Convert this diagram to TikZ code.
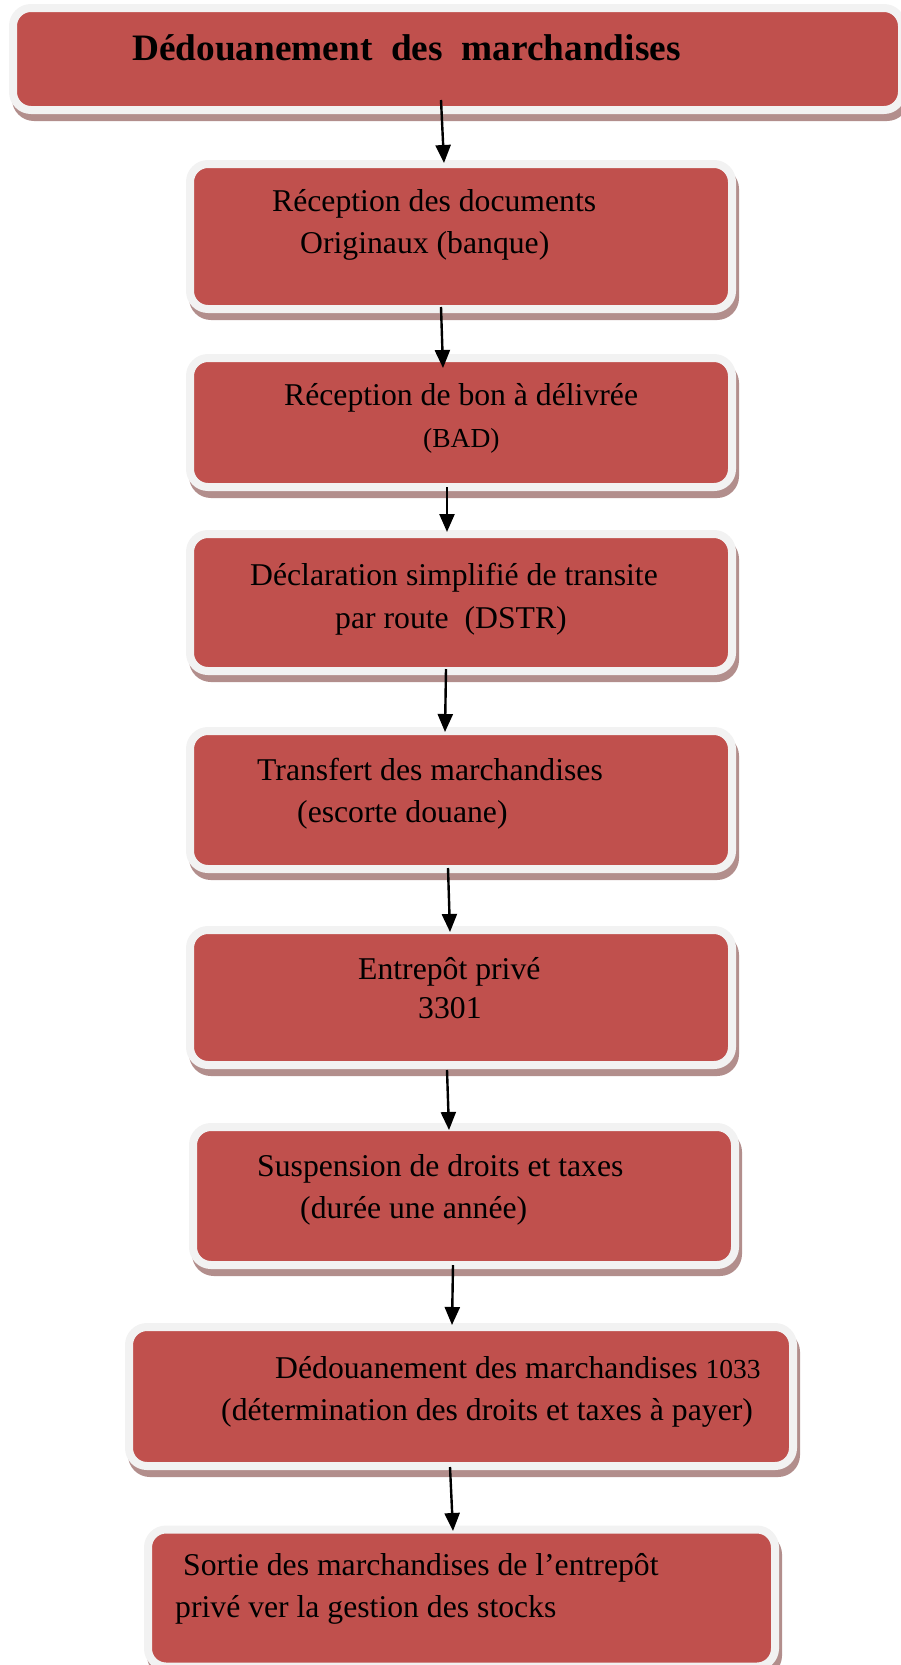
\documentclass[tikz,border=0pt]{standalone}
\usepackage{fontspec}
\setmainfont{Liberation Serif}
\usetikzlibrary{shadows,arrows.meta}
\definecolor{boxred}{RGB}{192,80,77}
\definecolor{rim}{RGB}{242,242,242}
\definecolor{shade}{RGB}{178,142,140}

\tikzset{
  stepbox/.style={rectangle, rounded corners=18pt, fill=boxred, draw=rim,
    line width=8pt, inner sep=0pt,
    general shadow={fill=shade, draw=shade, line width=8pt,
      shadow xshift=3pt, shadow yshift=-7pt}},
  txt/.style={anchor=base west, inner sep=0pt, text=black,
    font=\fontsize{31.7}{38}\selectfont},
  smalltxt/.style={font=\fontsize{27.5}{33}\selectfont},
  titletxt/.style={font=\fontsize{37.3}{44}\selectfont\bfseries},
  flow/.style={line width=2.4pt, draw=black,
    -{Triangle[length=18pt,width=15pt]}},
}

\begin{document}
\begin{tikzpicture}[x=1pt,y=-1pt]
\useasboundingbox (0,0) rectangle (901,1665);

% boxes
\node[stepbox, minimum width=889pt, minimum height=102pt] (b1) at (457.5,59) {};
\node[stepbox, minimum width=542pt, minimum height=145pt] (b2) at (461,236.5) {};
\node[stepbox, minimum width=542pt, minimum height=129pt] (b3) at (461,422.5) {};
\node[stepbox, minimum width=542pt, minimum height=137pt] (b4) at (461,602.5) {};
\node[stepbox, minimum width=542pt, minimum height=138pt] (b5) at (461,800) {};
\node[stepbox, minimum width=542pt, minimum height=135pt] (b6) at (461,997.5) {};
\node[stepbox, minimum width=542pt, minimum height=138pt] (b7) at (464,1196) {};
\node[stepbox, minimum width=664pt, minimum height=139pt] (b8) at (461,1396.5) {};
\node[stepbox, minimum width=627pt, minimum height=137pt] (b9) at (461.5,1598) {};

% labels
\node[txt, titletxt] (t1) at (132,60) {Dédouanement\ \ des\ \ marchandises};

\node[txt] (t2a) at (272,211) {Réception des documents};
\node[txt] (t2b) at (300,253) {Originaux (banque)};

\node[txt] (t3a) at (284,405) {Réception de bon à délivrée};
\node[txt, smalltxt] (t3b) at (423,447) {(BAD)};

\node[txt] (t4a) at (250,585) {Déclaration simplifié de transite};
\node[txt] (t4b) at (335,628) {par route\ \ (DSTR)};

\node[txt] (t5a) at (257,780) {Transfert des marchandises};
\node[txt] (t5b) at (297,822) {(escorte douane)};

\node[txt] (t6a) at (358,979) {Entrepôt privé};
\node[txt] (t6b) at (418,1018) {3301};

\node[txt] (t7a) at (257,1176) {Suspension de droits et taxes};
\node[txt] (t7b) at (300,1218) {(durée une année)};

\node[txt] (t8a) at (275,1378) {Dédouanement des marchandises {\fontsize{27.5}{33}\selectfont 1033}};
\node[txt] (t8b) at (221,1420) {(détermination des droits et taxes à payer)};

\node[txt] (t9a) at (183,1575) {Sortie des marchandises de l’entrepôt};
\node[txt] (t9b) at (175,1617) {privé ver la gestion des stocks};

% connectors
\draw[flow] ([xshift=-16.5pt,yshift=14pt]b1.south) -- ([xshift=-17pt,yshift=-3pt]b2.north);
\draw[flow] ([xshift=-20pt,yshift=6pt]b2.south) -- ([xshift=-18pt,yshift=-14pt]b3.north);
\draw[flow] ([xshift=-14pt,yshift=4pt]b3.south) -- ([xshift=-14pt,yshift=-2pt]b4.north);
\draw[flow] ([xshift=-15pt,yshift=6pt]b4.south) -- ([xshift=-16pt,yshift=-5pt]b5.north);
\draw[flow] ([xshift=-13pt,yshift=5pt]b5.south) -- ([xshift=-11pt,yshift=-6pt]b6.north);
\draw[flow] ([xshift=-14pt,yshift=-1pt]b6.south) -- ([xshift=-15pt,yshift=-7pt]b7.north);
\draw[flow] ([xshift=-11pt,yshift=4pt]b7.south) -- ([xshift=-9pt,yshift=-2pt]b8.north);
\draw[flow] ([xshift=-11pt,yshift=3pt]b8.south) -- ([xshift=-8.5pt,yshift=-5.5pt]b9.north);
\end{tikzpicture}
\end{document}
